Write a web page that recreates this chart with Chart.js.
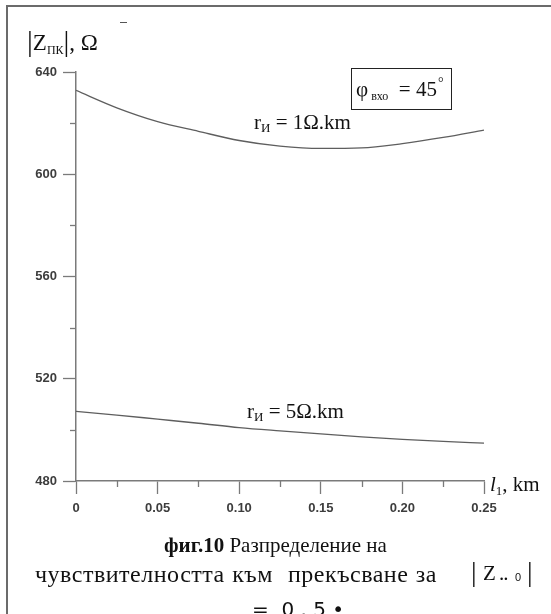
<!DOCTYPE html>
<html><head><meta charset="utf-8">
<script src="https://cdn.jsdelivr.net/npm/chart.js@4.4.1/dist/chart.umd.min.js"></script>
<style>
html,body{margin:0;padding:0;background:#fff;width:551px;height:614px;overflow:hidden;}
#wrap{position:relative;width:551px;height:614px;overflow:hidden;}
canvas{position:absolute;left:0;top:0;}
.t{position:absolute;font-family:"Liberation Serif","Times New Roman",serif;color:#111;white-space:nowrap;line-height:1;}
.ln{position:absolute;background:#6b6b6b;}
</style></head><body>
<div id="wrap">
<canvas id="c" width="551" height="614"></canvas>
<div class="ln" style="left:6px;top:5px;width:545px;height:2px"></div>
<div class="ln" style="left:6px;top:5px;width:2px;height:609px"></div>
<div class="ln" style="left:120px;top:22px;width:7px;height:1px;background:#555"></div>

<div class="t" style="left:27px;top:26px;font-size:23px"><span style="font-size:29px;position:relative;top:1px">|</span>Z<span style="font-size:12px;position:relative;top:4px">ПК</span><span style="font-size:29px;position:relative;top:1px">|</span>, Ω</div>

<div style="position:absolute;left:351px;top:68px;width:101px;height:42px;border:1.3px solid #222;box-sizing:border-box"></div>
<div class="t" style="left:356px;top:79px;font-size:21px">φ<span style="font-size:12px;position:relative;top:4px;margin-left:3px">вхо</span>&nbsp; = 45<span style="font-size:14px;position:relative;top:-9px;margin-left:1px">°</span></div>

<div class="t" style="left:254px;top:112px;font-size:21px">r<span style="font-size:13px;position:relative;top:3px">И</span> = 1Ω.km</div>
<div class="t" style="left:247px;top:401px;font-size:21px">r<span style="font-size:13px;position:relative;top:3px">И</span> = 5Ω.km</div>

<div class="t" style="left:490px;top:474px;font-size:21px"><i>l</i><span style="font-size:13px;position:relative;top:4px">1</span>, km</div>

<div class="t" style="left:0;width:551px;text-align:center;top:535px;font-size:21px"><b>фиг.10</b> Разпределение на</div>
<div class="t" style="left:35px;top:562px;font-size:24px;letter-spacing:0.5px;word-spacing:1px">чувствителността към&nbsp; прекъсване за</div>
<div class="t" style="left:471px;top:558px;font-size:28px">|</div>
<div class="t" style="left:483px;top:563px;font-size:21px">Z</div>
<div class="t" style="left:499px;top:563px;font-size:21px;letter-spacing:-1px">..</div>
<div class="t" style="left:515px;top:572px;font-size:11px;font-family:'Liberation Sans',sans-serif">0</div>
<div class="t" style="left:527px;top:558px;font-size:28px">|</div>
<div class="t" style="left:252px;top:599px;font-size:20px;font-family:'DejaVu Sans',sans-serif">=&nbsp; 0 . 5 •</div>
</div>
<script>
// ---- data ----
const lengths = [0, 0.025, 0.05, 0.075, 0.1, 0.125, 0.15, 0.175, 0.2, 0.225, 0.25];
const zR1 = [632.8, 626.0, 620.6, 616.8, 613.2, 611.0, 610.1, 610.3, 612.0, 614.4, 617.3];
const zR5 = [507.2, 505.8, 504.2, 502.6, 500.9, 499.6, 498.4, 497.3, 496.3, 495.5, 494.8];
const xTickLabels = ['0', '0.05', '0.10', '0.15', '0.20', '0.25'];
const yTickLabels = ['480', '520', '560', '600', '640'];

const toPts = ys => lengths.map((x, i) => ({x: x, y: ys[i]}));
const AX = '#7a7a7a';

const minorTicks = {
  id: 'minorTicks',
  afterDraw(chart) {
    const ctx = chart.ctx, xs = chart.scales.x, ys = chart.scales.y;
    ctx.save();
    ctx.strokeStyle = AX; ctx.lineWidth = 1.3;
    xs.ticks.forEach((t, i) => {
      if (i % 2 === 1) {
        const px = Math.round(xs.getPixelForValue(t.value)) + 0.5;
        ctx.beginPath(); ctx.moveTo(px, xs.top); ctx.lineTo(px, xs.top + 6); ctx.stroke();
      }
    });
    ys.ticks.forEach((t, i) => {
      if (i % 2 === 1) {
        const py = Math.round(ys.getPixelForValue(t.value)) + 0.5;
        ctx.beginPath(); ctx.moveTo(ys.right - 6, py); ctx.lineTo(ys.right, py); ctx.stroke();
      }
    });
    ctx.restore();
  }
};

new Chart(document.getElementById('c'), {
  type: 'line',
  data: {
    datasets: [
      {data: toPts(zR1), borderColor: '#5e5e5e', borderWidth: 1.3, pointRadius: 0, cubicInterpolationMode: 'monotone', fill: false},
      {data: toPts(zR5), borderColor: '#5e5e5e', borderWidth: 1.3, pointRadius: 0, cubicInterpolationMode: 'monotone', fill: false}
    ]
  },
  options: {
    responsive: false, animation: false, devicePixelRatio: 1,
    layout: {padding: {left: 0, top: 72, right: 67, bottom: 93}},
    plugins: {legend: {display: false}, tooltip: {enabled: false}},
    scales: {
      x: {
        type: 'linear', min: 0, max: 0.25,
        afterFit: s => { s.height = 40; },
        border: {display: true, color: AX, width: 1.5},
        grid: {drawOnChartArea: false, drawTicks: true, tickLength: 13, tickWidth: 1.3,
               tickColor: c => (c.index % 2 === 0 ? AX : 'transparent')},
        ticks: {stepSize: 0.025, padding: 7, maxRotation: 0, autoSkip: false, color: '#3d3d3d',
                font: {family: 'Liberation Sans, Arial, sans-serif', size: 13, weight: 'bold'},
                callback: (v, i) => (i % 2 === 0 ? xTickLabels[i / 2] : '')}
      },
      y: {
        type: 'linear', min: 480, max: 640,
        afterFit: s => { s.width = 76; },
        border: {display: true, color: AX, width: 1.5},
        grid: {drawOnChartArea: false, drawTicks: true, tickLength: 13, tickWidth: 1.3,
               tickColor: c => (c.index % 2 === 0 ? AX : 'transparent')},
        ticks: {stepSize: 20, padding: 6, autoSkip: false, color: '#3d3d3d',
                font: {family: 'Liberation Sans, Arial, sans-serif', size: 13, weight: 'bold'},
                callback: (v, i) => (i % 2 === 0 ? yTickLabels[i / 2] : '')}
      }
    }
  },
  plugins: [minorTicks]
});
</script>
</body></html>
